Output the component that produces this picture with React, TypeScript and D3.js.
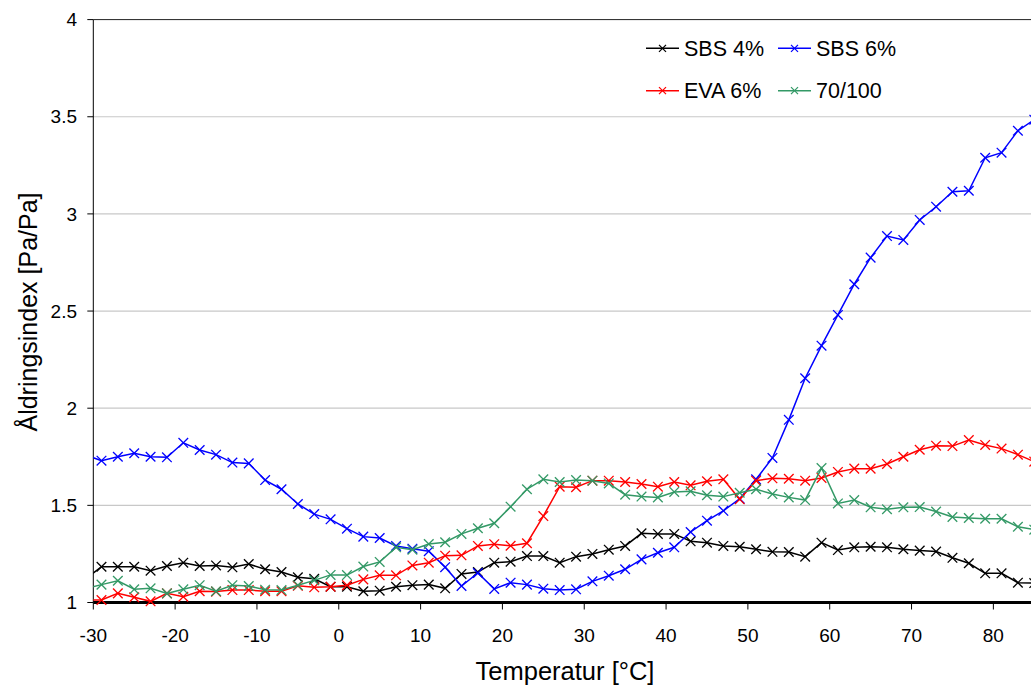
import React from "react";
import * as d3 from "d3";

const temps = [-31,-29,-27,-25,-23,-21,-19,-17,-15,-13,-11,-9,-7,-5,-3,-1,1,3,5,7,9,11,13,15,17,19,21,23,25,27,29,31,33,35,37,39,41,43,45,47,49,51,53,55,57,59,61,63,65,67,69,71,73,75,77,79,81,83,85];

const sbs4 = [1.12,1.184,1.184,1.184,1.164,1.188,1.205,1.188,1.191,1.181,1.198,1.171,1.157,1.13,1.122,1.081,1.081,1.058,1.061,1.081,1.089,1.092,1.073,1.147,1.157,1.205,1.21,1.239,1.239,1.205,1.236,1.25,1.272,1.291,1.356,1.353,1.353,1.315,1.308,1.291,1.287,1.274,1.261,1.26,1.236,1.308,1.27,1.284,1.287,1.284,1.274,1.267,1.262,1.23,1.202,1.15,1.15,1.102,1.1];

const sbs6 = [1.76,1.73,1.75,1.768,1.75,1.747,1.822,1.785,1.761,1.72,1.716,1.63,1.583,1.507,1.455,1.428,1.38,1.339,1.332,1.291,1.277,1.264,1.182,1.085,1.152,1.07,1.102,1.092,1.071,1.064,1.068,1.109,1.138,1.171,1.222,1.256,1.284,1.363,1.421,1.472,1.534,1.634,1.744,1.94,2.154,2.322,2.48,2.638,2.775,2.886,2.866,2.969,3.037,3.114,3.119,3.289,3.315,3.428,3.485];

const eva6 = [1.013,1.013,1.047,1.027,1.006,1.047,1.03,1.058,1.056,1.064,1.064,1.058,1.058,1.086,1.078,1.081,1.089,1.119,1.14,1.14,1.191,1.205,1.241,1.243,1.291,1.3,1.292,1.305,1.445,1.596,1.593,1.627,1.627,1.62,1.61,1.596,1.62,1.603,1.624,1.634,1.531,1.627,1.639,1.637,1.627,1.641,1.672,1.689,1.689,1.713,1.75,1.786,1.807,1.805,1.836,1.811,1.792,1.761,1.725];

const pen70 = [1.07,1.092,1.112,1.068,1.073,1.047,1.068,1.089,1.058,1.089,1.085,1.066,1.064,1.089,1.114,1.142,1.141,1.185,1.209,1.284,1.272,1.301,1.31,1.353,1.382,1.408,1.493,1.583,1.634,1.62,1.63,1.627,1.613,1.555,1.545,1.541,1.569,1.572,1.552,1.545,1.565,1.583,1.558,1.541,1.527,1.692,1.51,1.527,1.49,1.48,1.49,1.491,1.468,1.44,1.435,1.431,1.431,1.39,1.375];

const xTicks = [-30,-20,-10,0,10,20,30,40,50,60,70,80];
const yTicks = [1,1.5,2,2.5,3,3.5,4];
const yTickLabels = ["1","1.5","2","2.5","3","3.5","4"];

const seriesNames = ["SBS 4%", "SBS 6%", "EVA 6%", "70/100"];
const seriesValues = [sbs4, sbs6, eva6, pen70];
const seriesColors = ["#000000", "#0000ff", "#ff0000", "#339966"];

const FONT = "'Liberation Sans', Arial, Helvetica, sans-serif";

export default function App() {
  const W = 1031, H = 688;
  const left = 93.3, right = 1031, top = 19.6, bottom = 602.5;
  const x = d3.scaleLinear().domain([-30, 84.6]).range([left, right]);
  const y = d3.scaleLinear().domain([1, 4]).range([bottom, top]);

  const line = d3.line<number>()
    .x((_, i) => x(temps[i]))
    .y((d) => y(d));

  const cross = (cx: number, cy: number, s: number, color: string, key: string, sw = 1.3) => (
    <g key={key}>
      <line x1={cx - s} y1={cy - s} x2={cx + s} y2={cy + s} stroke={color} strokeWidth={sw} />
      <line x1={cx - s} y1={cy + s} x2={cx + s} y2={cy - s} stroke={color} strokeWidth={sw} />
    </g>
  );

  const legendItems = [
    { lx: 646, ty: 48.3 },
    { lx: 778, ty: 48.3 },
    { lx: 646, ty: 90.7 },
    { lx: 778, ty: 90.7 },
  ];

  return (
    <svg width={W} height={H} style={{ position: "fixed", left: 0, top: 0, background: "#fff" }} fontFamily={FONT}>
      <defs>
        <clipPath id="plotclip">
          <rect x={left} y={0} width={right - left} height={H} />
        </clipPath>
      </defs>
      <rect x={0} y={0} width={W} height={H} fill="#fff" />
      {yTicks.slice(1, -1).map((t) => (
        <line key={"g" + t} x1={left} x2={right} y1={y(t)} y2={y(t)} stroke="#c8c8c8" strokeWidth={1.2} />
      ))}
      <line x1={left} x2={right} y1={y(4)} y2={y(4)} stroke="#222" strokeWidth={1} />
      <line x1={left} x2={left} y1={y(4)} y2={bottom} stroke="#000" strokeWidth={1} />
      {yTicks.map((t, i) => (
        <g key={"yt" + t}>
          <line x1={left - 6} x2={left} y1={y(t)} y2={y(t)} stroke="#000" strokeWidth={1} />
          <text x={77} y={y(t)} dy="0.35em" textAnchor="end" fontSize={19} fill="#000">{yTickLabels[i]}</text>
        </g>
      ))}
      {xTicks.map((t) => (
        <g key={"xt" + t}>
          <line x1={x(t)} x2={x(t)} y1={bottom} y2={bottom + 7} stroke="#000" strokeWidth={1} />
          <text x={x(t)} y={641.5} textAnchor="middle" fontSize={19} fill="#000">{String(t)}</text>
        </g>
      ))}
      <line x1={left} x2={right} y1={bottom} y2={bottom} stroke="#000" strokeWidth={3.2} />

      <g clipPath="url(#plotclip)">
        {seriesValues.map((vals, si) => (
          <g key={"s" + si}>
            <path d={line(vals) || ""} fill="none" stroke={seriesColors[si]} strokeWidth={1.5} />
            {vals.map((v, i) => cross(x(temps[i]), y(v), 4.8, seriesColors[si], "m" + si + "-" + i))}
          </g>
        ))}
      </g>

      {seriesNames.map((name, i) => {
        const it = legendItems[i];
        return (
          <g key={"lg" + i}>
            <line x1={it.lx} x2={it.lx + 33} y1={it.ty} y2={it.ty} stroke={seriesColors[i]} strokeWidth={1.5} />
            {cross(it.lx + 16.5, it.ty, 3.5, seriesColors[i], "lm" + i, 1.2)}
            <text x={it.lx + 38} y={it.ty} dy="0.36em" fontSize={21.5} fill="#000">{name}</text>
          </g>
        );
      })}

      <text x={565} y={680} textAnchor="middle" fontSize={25.5} fill="#000">Temperatur [°C]</text>
      <text transform="translate(37,312) rotate(-90)" textAnchor="middle" fontSize={25} fill="#000">Åldringsindex [Pa/Pa]</text>
    </svg>
  );
}
